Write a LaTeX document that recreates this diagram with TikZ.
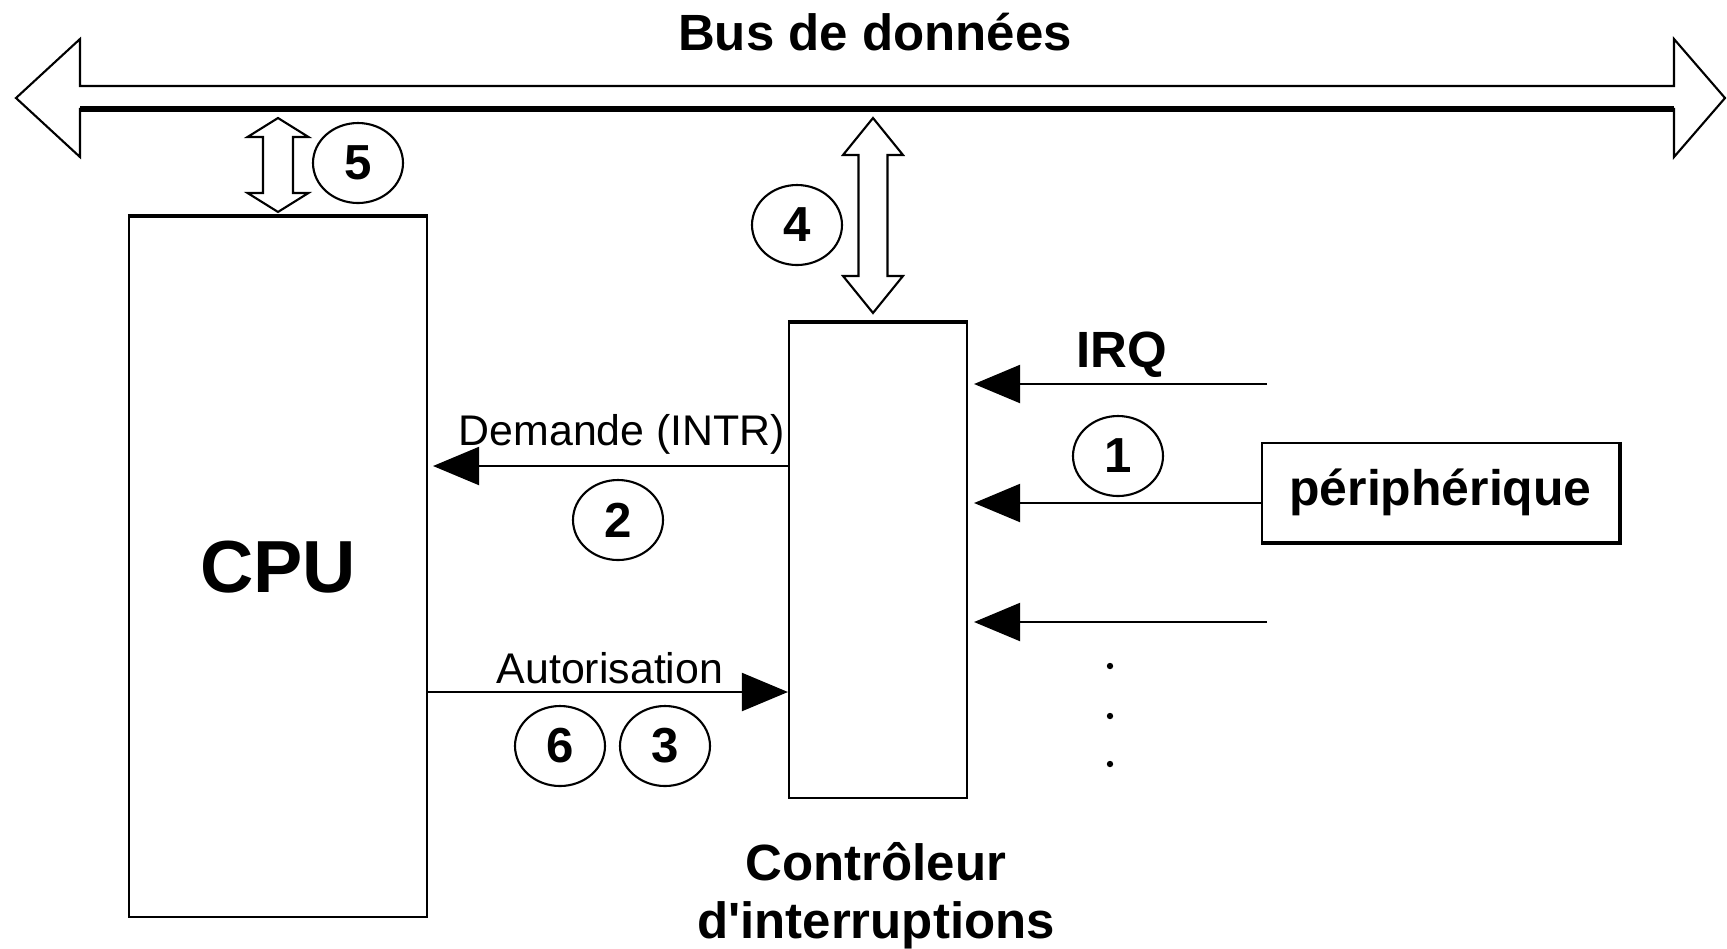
\documentclass[tikz,border=0pt]{standalone}
\usepackage{fontspec}
\setmainfont{Liberation Sans}
\usepackage{tikz}
\usetikzlibrary{arrows.meta, positioning, calc, shapes.geometric}

% vertical double arrow: top tip, bottom tip, shaft half width, head half width, head length
\newcommand{\busarrow}[5]{%
  \draw (#1) -- ($(#1)+(#4,#5)$) -- ($(#1)+(#3,#5)$) -- ($(#2)+(#3,-#5)$)
    -- ($(#2)+(#4,-#5)$) -- (#2) -- ($(#2)+(-#4,-#5)$) -- ($(#2)+(-#3,-#5)$)
    -- ($(#1)+(-#3,#5)$) -- ($(#1)+(-#4,#5)$) -- cycle;}

\begin{document}
\begin{tikzpicture}[
    x=0.1mm, y=-0.1mm,
    line width=0.6pt,
    box/.style={rectangle, draw, inner sep=0pt},
    num/.style={ellipse, draw, minimum width=9mm, minimum height=8mm,
                inner sep=0pt, font=\fontsize{14}{16}\selectfont\bfseries},
    lbl/.style={inner sep=0pt, font=\fontsize{14.5}{17}\selectfont\bfseries},
    small/.style={inner sep=0pt, font=\fontsize{12.2}{15}\selectfont},
    sig/.style={-{Triangle[length=4.6mm, width=3.8mm]}}
]
    \useasboundingbox (0,0) rectangle (1727,948);

    % data bus
    \draw (16,98) -- (80,39) -- (80,86) -- (1674,86) -- (1674,39) -- (1725,98)
        -- (1674,157) -- (1674,109) -- (80,109) -- (80,157) -- cycle;
    \draw[line width=1.6pt] (80,109) -- (1674,109);
    \node[lbl, anchor=base] (bustitle) at (875,50) {Bus de données};
    \coordinate (bus) at (0,118);

    % blocks
    \node[box, minimum width=29.8mm, minimum height=70mm,
          font=\fontsize{21}{25}\selectfont\bfseries] (cpu) at (278,567) {CPU};
    \node[box, minimum width=17.8mm, minimum height=47.5mm] (ctrl) at (878,560.5) {};
    \node[box, minimum width=35.7mm, minimum height=9.9mm, font=\fontsize{14.2}{17}\selectfont\bfseries]
        (periph) at (1440.5,492.5) {périphérique};
    \draw[line width=1.4pt] (cpu.north west) -- (cpu.north east);
    \draw[line width=1.4pt] (ctrl.north west) -- (ctrl.north east);
    \draw[line width=1.2pt] (periph.north east) -- (periph.south east) -- (periph.south west);
    \node[lbl, anchor=base] (ctrlA) at (876,880) {Contrôleur};
    \node[lbl, anchor=base] (ctrlB) at (876,938) {d\textquotesingle interruptions};

    % bus links
    \busarrow{cpu.north |- bus}{$(cpu.north)+(0,-4)$}{15}{30.5}{19}
    \busarrow{$(ctrl.north |- bus)+(-5,0)$}{$(ctrl.north)+(-5,-9)$}{14.5}{30}{37}

    % signals
    \coordinate (dem) at (0,466);
    \coordinate (aut) at (0,692);
    \coordinate (irq) at (1267,384);
    \coordinate (in2) at (0,503);
    \coordinate (in3) at (1267,622);
    \draw[sig] (ctrl.west |- dem) -- ($(cpu.east |- dem)+(5,0)$);
    \draw[sig] (cpu.east |- aut) -- (ctrl.west |- aut);
    \draw[sig] (irq) -- ($(ctrl.east |- irq)+(6,0)$);
    \draw[sig] (periph.west |- in2) -- ($(ctrl.east |- in2)+(6,0)$);
    \draw[sig] (in3) -- ($(ctrl.east |- in3)+(6,0)$);
    \node[small, anchor=base] (demlbl) at (622,445) {Demande (INTR)};
    \node[small, anchor=base] (autlbl) at (610,683) {Autorisation};
    \node[lbl, anchor=base] (irqlbl) at (1122,367) {IRQ};
    \foreach \y in {666,716,764}
        \fill (1110,\y) circle (0.32mm);

    % steps
    \node[num] (s1) at (1118,456) {1};
    \node[num] (s2) at (618,520) {2};
    \node[num] (s3) at (665,746) {3};
    \node[num] (s4) at (797,225) {4};
    \node[num] (s5) at (358,163) {5};
    \node[num] (s6) at (560,746) {6};
\end{tikzpicture}
\end{document}
